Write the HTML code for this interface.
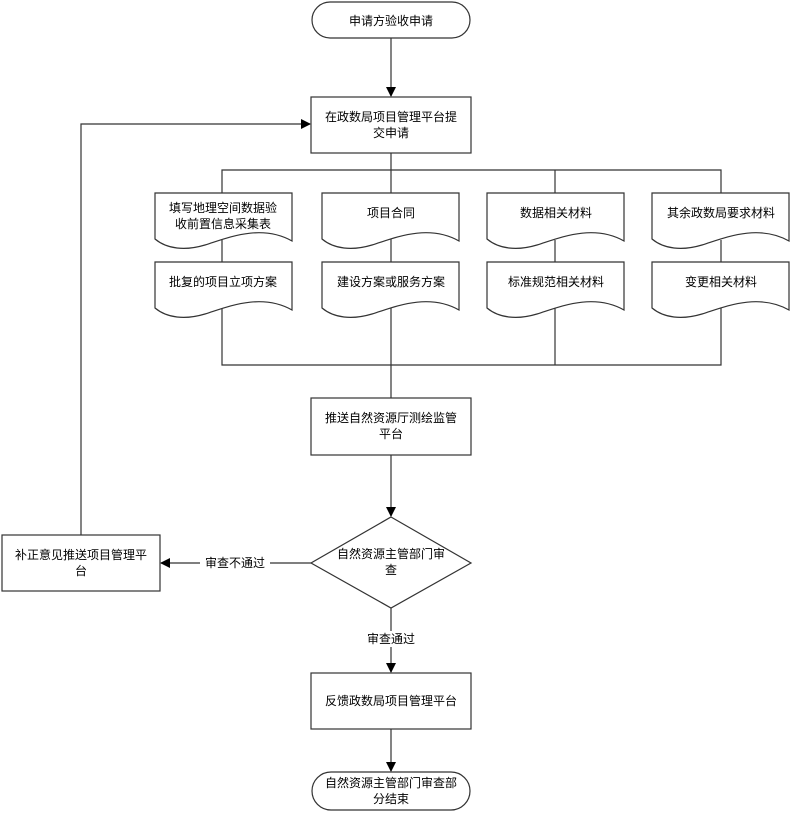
<!DOCTYPE html>
<html><head><meta charset="utf-8"><style>
html,body{margin:0;padding:0;background:#fff;}
svg{display:block;}
text{font-family:"Liberation Sans","Noto Sans CJK SC","WenQuanYi Zen Hei",sans-serif;font-size:12px;fill:#000;text-anchor:middle;}
.s{fill:#fff;stroke:#333;stroke-width:1.2;}
.l{fill:none;stroke:#333;stroke-width:1.2;}
</style></head><body>
<svg width="791" height="813" viewBox="0 0 791 813" xmlns="http://www.w3.org/2000/svg">
<defs>
<marker id="a" markerWidth="10" markerHeight="10" refX="9" refY="5" orient="auto" markerUnits="userSpaceOnUse">
<path d="M0,0 L10,5 L0,10 z" fill="#000"/></marker>
<path id="doc" d="M0,0 H137 V48 C105,30 70,46 50,52 C30,58 12,56 0,46 Z"/>
</defs>
<!-- connectors -->
<line class="l" x1="391" y1="38" x2="391" y2="96" marker-end="url(#a)"/>
<line class="l" x1="391" y1="153" x2="391" y2="398"/>
<polyline class="l" points="222,193 222,170 721,170 721,193"/>
<line class="l" x1="555" y1="170" x2="555" y2="193"/>
<polyline class="l" points="222,240 222,365 721,365 721,240"/>
<line class="l" x1="555" y1="240" x2="555" y2="365"/>
<line class="l" x1="391" y1="455" x2="391" y2="516" marker-end="url(#a)"/>
<line class="l" x1="311" y1="563" x2="161" y2="563" marker-end="url(#a)"/>
<polyline class="l" points="81,535 81,124 310,124" marker-end="url(#a)"/>
<line class="l" x1="391" y1="608" x2="391" y2="672" marker-end="url(#a)"/>
<line class="l" x1="391" y1="729" x2="391" y2="771" marker-end="url(#a)"/>
<!-- start -->
<rect class="s" x="312" y="2" width="158" height="36" rx="18"/>
<text x="391" y="25">申请方验收申请</text>
<rect class="s" x="311" y="97" width="160" height="56"/>
<text x="391" y="121">在政数局项目管理平台提</text><text x="391" y="137">交申请</text>
<!-- docs -->
<use href="#doc" class="s" x="155" y="193"/><text x="223" y="212">填写地理空间数据验</text><text x="223" y="228">收前置信息采集表</text>
<use href="#doc" class="s" x="322" y="193"/><text x="391" y="217">项目合同</text>
<use href="#doc" class="s" x="487" y="193"/><text x="556" y="217">数据相关材料</text>
<use href="#doc" class="s" x="652" y="193"/><text x="721" y="217">其余政数局要求材料</text>
<use href="#doc" class="s" x="155" y="262"/><text x="223" y="286">批复的项目立项方案</text>
<use href="#doc" class="s" x="322" y="262"/><text x="391" y="286">建设方案或服务方案</text>
<use href="#doc" class="s" x="487" y="262"/><text x="556" y="286">标准规范相关材料</text>
<use href="#doc" class="s" x="652" y="262"/><text x="721" y="286">变更相关材料</text>
<rect class="s" x="311" y="398" width="160" height="57"/>
<text x="391" y="422">推送自然资源厅测绘监管</text><text x="391" y="438">平台</text>
<polygon class="s" points="391,517 471,563 391,608 311,563"/>
<text x="391" y="558">自然资源主管部门审</text><text x="391" y="574">查</text>
<rect class="s" x="2" y="535" width="158" height="56"/>
<text x="81" y="559">补正意见推送项目管理平</text><text x="81" y="575">台</text>
<rect x="200" y="555" width="70" height="16" fill="#fff"/>
<text x="235" y="567">审查不通过</text>
<rect x="362" y="631" width="58" height="16" fill="#fff"/>
<text x="391" y="643">审查通过</text>
<rect class="s" x="311" y="673" width="160" height="56"/>
<text x="391" y="705">反馈政数局项目管理平台</text>
<rect class="s" x="312" y="772" width="158" height="38" rx="19"/>
<text x="391" y="787">自然资源主管部门审查部</text><text x="391" y="803">分结束</text>
</svg>
</body></html>
